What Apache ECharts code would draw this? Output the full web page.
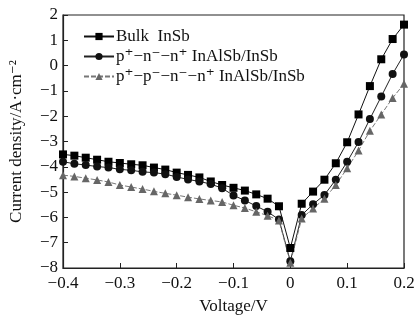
<!DOCTYPE html>
<html>
<head>
<meta charset="utf-8">
<script src="https://cdn.jsdelivr.net/npm/echarts@6/dist/echarts.min.js"></script>
<style>
  html, body { margin: 0; padding: 0; background: #fff; }
  #chart { width: 419px; height: 320px; }
</style>
</head>
<body>
<div id="chart"></div>
<script>
// voltage steps, V
const voltage = [
  -0.40, -0.38, -0.36, -0.34, -0.32, -0.30, -0.28, -0.26, -0.24, -0.22,
  -0.20, -0.18, -0.16, -0.14, -0.12, -0.10, -0.08, -0.06, -0.04, -0.02,
  0.00, 0.02, 0.04, 0.06, 0.08, 0.10, 0.12, 0.14, 0.16, 0.18, 0.20
];

// log current density
const bulkInSb = [
  -3.51, -3.56, -3.64, -3.72, -3.80, -3.85, -3.90, -3.94, -4.03, -4.11,
  -4.23, -4.32, -4.42, -4.58, -4.72, -4.83, -4.94, -5.09, -5.26, -5.56,
  -7.21, -5.46, -4.98, -4.51, -3.86, -3.03, -1.93, -0.81, 0.25, 1.05, 1.62
];
const pnnInAlSb = [
  -3.80, -3.88, -3.93, -3.99, -4.03, -4.10, -4.14, -4.20, -4.23, -4.29,
  -4.40, -4.50, -4.58, -4.68, -4.85, -5.13, -5.33, -5.55, -5.78, -6.08,
  -7.73, -5.91, -5.48, -5.11, -4.51, -3.80, -3.02, -2.11, -1.22, -0.33, 0.44
];
const ppnnInAlSb = [
  -4.33, -4.38, -4.45, -4.52, -4.60, -4.72, -4.80, -4.88, -4.97, -5.05,
  -5.12, -5.20, -5.27, -5.33, -5.39, -5.52, -5.63, -5.78, -5.93, -6.12,
  -7.79, -6.04, -5.65, -5.26, -4.72, -4.06, -3.36, -2.58, -1.93, -1.28, -0.72
];

const seriesNames = [
  'Bulk  InSb',
  'p\u207A\u2212n\u207B\u2212n\u207A InAlSb/InSb',
  'p\u207A\u2212p\u207B\u2212n\u207B\u2212n\u207A InAlSb/InSb'
];

const font = 'Liberation Serif, DejaVu Serif, serif';
const minus = v => String(v).replace('-', '\u2212');
const pairs = ys => voltage.map((x, i) => [x, ys[i]]);

const chart = echarts.init(document.getElementById('chart'), null, { renderer: 'canvas' });

chart.setOption({
  animation: false,
  backgroundColor: '#fff',
  textStyle: { fontFamily: font, color: '#111' },
  grid: {
    left: 59, right: 15, top: 15, bottom: 48,
    show: true, borderColor: '#222', borderWidth: 1.2
  },
  legend: {
    orient: 'vertical',
    left: 78, top: 23,
    itemGap: 3,
    itemWidth: 30, itemHeight: 9,
    textStyle: { fontFamily: font, fontSize: 17, color: '#111', padding: [0, 0, 0, -3] },
    data: seriesNames
  },
  xAxis: {
    type: 'value',
    min: -0.4, max: 0.2, interval: 0.1,
    name: 'Voltage/V',
    nameLocation: 'middle',
    nameGap: 30,
    nameTextStyle: { fontFamily: font, fontSize: 17, color: '#111' },
    axisLine: { onZero: false, lineStyle: { color: '#222', width: 1.2 } },
    axisTick: { inside: true, length: 5, lineStyle: { color: '#222' } },
    axisLabel: {
      fontFamily: font, fontSize: 17, color: '#111', margin: 7,
      formatter: v => minus(Math.round(v * 10) / 10)
    },
    splitLine: { show: false }
  },
  yAxis: {
    type: 'value',
    min: -8, max: 2, interval: 1,
    name: 'Current density/A\u00B7cm\u207B\u00B2',
    nameLocation: 'middle',
    nameGap: 38,
    nameTextStyle: { fontFamily: font, fontSize: 17, color: '#111' },
    axisLine: { onZero: false, lineStyle: { color: '#222', width: 1.2 } },
    axisTick: { inside: true, length: 5, lineStyle: { color: '#222' } },
    axisLabel: {
      fontFamily: font, fontSize: 17, color: '#111', margin: 5,
      formatter: v => minus(v)
    },
    splitLine: { show: false }
  },
  series: [
    {
      name: seriesNames[0],
      type: 'line',
      data: pairs(bulkInSb),
      symbol: 'rect',
      symbolSize: 8,
      itemStyle: { color: '#000' },
      lineStyle: { color: '#111', width: 1 }
    },
    {
      name: seriesNames[1],
      type: 'line',
      data: pairs(pnnInAlSb),
      symbol: 'circle',
      symbolSize: 8,
      itemStyle: { color: '#111' },
      lineStyle: { color: '#222', width: 1 }
    },
    {
      name: seriesNames[2],
      type: 'line',
      data: pairs(ppnnInAlSb),
      symbol: 'triangle',
      symbolSize: 8,
      itemStyle: { color: '#666' },
      lineStyle: { color: '#777', width: 1, type: [5, 2] }
    }
  ]
});
</script>
</body>
</html>
